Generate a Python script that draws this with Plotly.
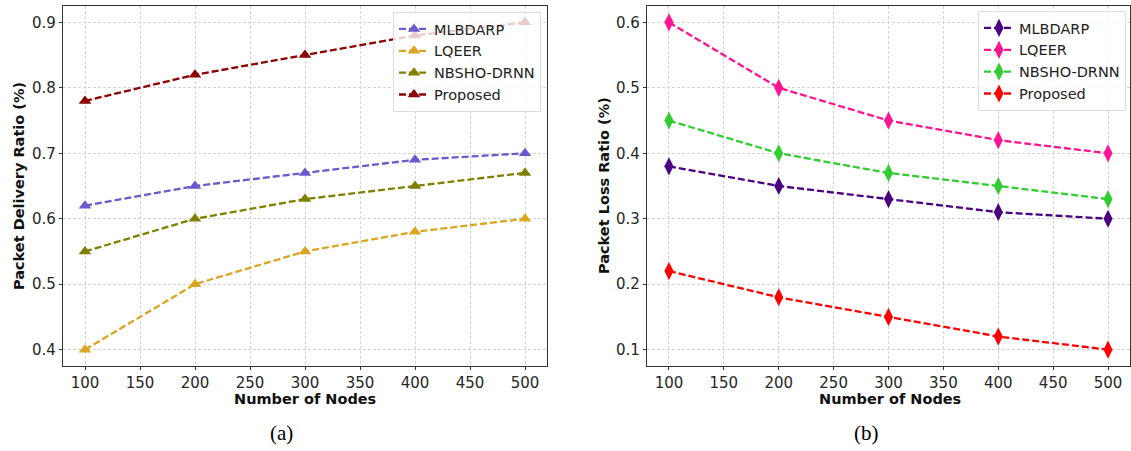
import plotly.graph_objects as go

nodes = [100, 200, 300, 400, 500]
series_names = ["MLBDARP", "LQEER", "NBSHO-DRNN", "Proposed"]

pdr_mlbdarp = [0.62, 0.65, 0.67, 0.69, 0.70]
pdr_lqeer = [0.40, 0.50, 0.55, 0.58, 0.60]
pdr_nbsho = [0.55, 0.60, 0.63, 0.65, 0.67]
pdr_proposed = [0.78, 0.82, 0.85, 0.88, 0.90]

plr_mlbdarp = [0.38, 0.35, 0.33, 0.31, 0.30]
plr_lqeer = [0.60, 0.50, 0.45, 0.42, 0.40]
plr_nbsho = [0.45, 0.40, 0.37, 0.35, 0.33]
plr_proposed = [0.22, 0.18, 0.15, 0.12, 0.10]

x_ticks = [100, 150, 200, 250, 300, 350, 400, 450, 500]
y_ticks_a = [0.4, 0.5, 0.6, 0.7, 0.8, 0.9]
y_ticks_b = [0.1, 0.2, 0.3, 0.4, 0.5, 0.6]

colors_a = ["#6A5ACD", "#DAA520", "#808000", "#8B0000"]
colors_b = ["#4B0082", "#FF1493", "#32CD32", "#FF0000"]

fig = go.Figure()

for name, ys, c in zip(series_names, [pdr_mlbdarp, pdr_lqeer, pdr_nbsho, pdr_proposed], colors_a):
    fig.add_trace(go.Scatter(
        x=nodes, y=ys, name=name, mode="lines+markers",
        line=dict(color=c, width=2.3, dash="7px,3px"),
        marker=dict(symbol="triangle-up", size=11, color=c),
        xaxis="x", yaxis="y", legend="legend"))

for name, ys, c in zip(series_names, [plr_mlbdarp, plr_lqeer, plr_nbsho, plr_proposed], colors_b):
    fig.add_trace(go.Scatter(
        x=nodes, y=ys, name=name, mode="lines+markers",
        line=dict(color=c, width=2.3, dash="7px,3px"),
        marker=dict(symbol="diamond-tall", size=13, color=c),
        xaxis="x2", yaxis="y2", legend="legend2"))

W, H = 1131, 451
def px(v):
    return v / W
def py(v):
    return 1 - v / H

tickfont = dict(family="DejaVu Sans", size=15, color="#262626")
axis_common = dict(
    showline=True, linecolor="#333333", linewidth=1.3, mirror=True,
    ticks="outside", ticklen=3, tickcolor="#333333", tickwidth=1,
    showgrid=True, gridcolor="#d4d4d4", griddash="3px,2px", gridwidth=1,
    zeroline=False, tickfont=tickfont,
)

legend_common = dict(
    bgcolor="rgba(255,255,255,0.8)", bordercolor="#dddddd", borderwidth=1,
    font=dict(family="DejaVu Sans", size=14.5, color="#222222"),
    xanchor="right", yanchor="top", tracegroupgap=0, itemwidth=30,
)

fig.update_layout(
    width=W, height=H,
    margin=dict(l=0, r=0, t=0, b=0),
    paper_bgcolor="white", plot_bgcolor="white",
    xaxis=dict(domain=[px(63), px(547)], range=[80, 520], tickvals=x_ticks, anchor="y", **axis_common),
    yaxis=dict(domain=[py(366), py(6)], range=[0.375, 0.925], tickvals=y_ticks_a,
               tickformat=".1f", anchor="x", **axis_common),
    xaxis2=dict(domain=[px(647), px(1130)], range=[80, 520], tickvals=x_ticks, anchor="y2", **axis_common),
    yaxis2=dict(domain=[py(366), py(6)], range=[0.075, 0.625], tickvals=y_ticks_b,
                tickformat=".1f", anchor="x2", **axis_common),
    legend=dict(x=px(541), y=py(12), **legend_common),
    legend2=dict(x=px(1126), y=py(11), **legend_common),
    showlegend=True,
)

title_font = dict(family="DejaVu Sans", size=14.5, color="#111111")
cap_font = dict(family="Liberation Serif", size=21, color="#000000")
def ann(text, x, y, font, angle=0):
    return dict(text=text, x=px(x), y=py(y), xref="paper", yref="paper",
                xanchor="center", yanchor="middle", showarrow=False,
                textangle=angle, font=font)

annots = [
    ann("<b>Number of Nodes</b>", 305, 399, title_font),
    ann("<b>Number of Nodes</b>", 890, 399, title_font),
    ann("<b>Packet Delivery Ratio (%)</b>", 19, 186, title_font, -90),
    ann("<b>Packet Loss Ratio (%)</b>", 604, 186, title_font, -90),
    ann("(a)", 281, 433, cap_font),
    ann("(b)", 866, 433, cap_font),
]
fig.update_layout(annotations=annots)

fig.write_html("out.html")
